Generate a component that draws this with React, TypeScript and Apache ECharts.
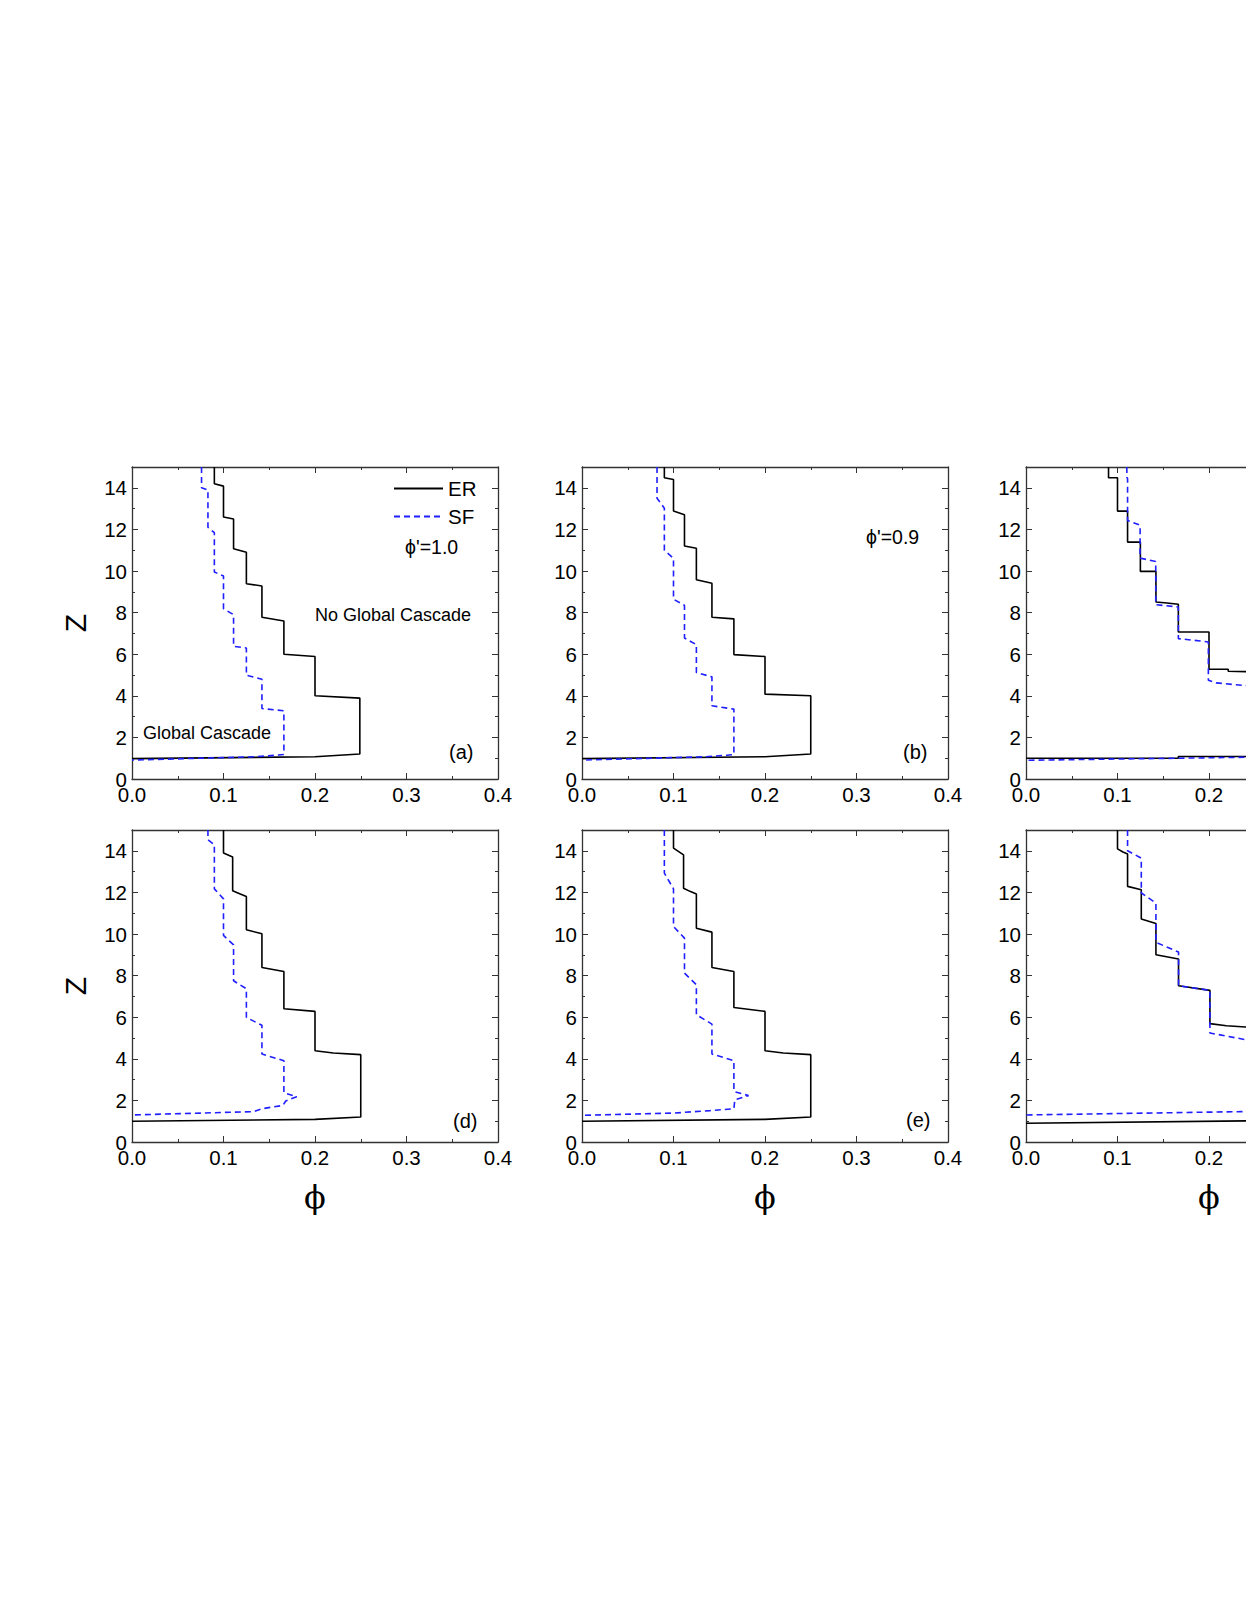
import React, { useEffect, useRef } from "react";
import * as echarts from "echarts";

// ---------- Data (phi, Z) ----------
// Panel (a)  phi' = 1.0
const aErPhi = [0.09, 0.09, 0.1, 0.1, 0.111, 0.111, 0.125, 0.125, 0.142, 0.142, 0.166, 0.166, 0.2, 0.2, 0.249, 0.249, 0.2, 0.0];
const aErZ = [15, 14.19, 14.08, 12.6, 12.5, 11.07, 10.9, 9.39, 9.28, 7.78, 7.6, 6.0, 5.89, 4.0, 3.89, 1.2, 1.07, 0.98];
const aSfPhi = [0.076, 0.076, 0.083, 0.083, 0.09, 0.09, 0.1, 0.1, 0.111, 0.111, 0.125, 0.125, 0.142, 0.142, 0.166, 0.166, 0.16, 0.135, 0.0];
const aSfZ = [15, 14.0, 13.9, 12.1, 11.84, 9.95, 9.76, 8.19, 7.9, 6.38, 6.3, 4.99, 4.8, 3.39, 3.28, 1.18, 1.15, 1.07, 0.91];

// Panel (b)  phi' = 0.9
const bErPhi = [0.09, 0.09, 0.1, 0.1, 0.112, 0.112, 0.125, 0.125, 0.142, 0.142, 0.166, 0.166, 0.2, 0.2, 0.25, 0.25, 0.2, 0.0];
const bErZ = [15, 14.48, 14.4, 12.88, 12.7, 11.2, 11.09, 9.58, 9.41, 7.78, 7.7, 5.98, 5.89, 4.08, 4.0, 1.2, 1.07, 0.98];
const bSfPhi = [0.082, 0.082, 0.09, 0.09, 0.1, 0.1, 0.112, 0.112, 0.125, 0.125, 0.142, 0.142, 0.166, 0.166, 0.16, 0.135, 0.0];
const bSfZ = [15, 13.5, 13.02, 11.0, 10.6, 8.64, 8.35, 6.78, 6.46, 5.12, 4.91, 3.52, 3.36, 1.18, 1.15, 1.07, 0.91];

// Panel (c)
const cErPhi = [0.0902, 0.0902, 0.1, 0.1, 0.111, 0.111, 0.125, 0.125, 0.142, 0.142, 0.154, 0.1665, 0.1665, 0.2, 0.2, 0.221, 0.221, 0.25, 0.25, 0.1665, 0.1665, 0.0];
const cErZ = [15, 14.48, 14.48, 12.88, 12.88, 11.39, 11.39, 9.98, 9.98, 8.51, 8.46, 8.4, 7.07, 7.07, 5.28, 5.28, 5.18, 5.15, 1.08, 1.08, 1.0, 1.0];
const cSfPhi = [0.1102, 0.1102, 0.111, 0.111, 0.1247, 0.1247, 0.1418, 0.1418, 0.1665, 0.1665, 0.1993, 0.1993, 0.208, 0.25, 0.25, 0.0];
const cSfZ = [15, 14.5, 14.45, 12.43, 12.2, 10.62, 10.46, 8.38, 8.27, 6.75, 6.59, 4.75, 4.62, 4.45, 1.05, 0.9];

// Panel (d)
const dErPhi = [0.1, 0.1, 0.11, 0.11, 0.117, 0.125, 0.125, 0.142, 0.142, 0.166, 0.166, 0.2, 0.2, 0.22, 0.25, 0.25, 0.2, 0.0];
const dErZ = [15, 13.89, 13.7, 12.08, 11.95, 11.8, 10.2, 10.01, 8.39, 8.2, 6.41, 6.28, 4.39, 4.28, 4.2, 1.2, 1.09, 1.0];
const dSfPhi = [0.083, 0.083, 0.09, 0.09, 0.1, 0.1, 0.111, 0.111, 0.125, 0.125, 0.142, 0.142, 0.166, 0.166, 0.18, 0.168, 0.165, 0.142, 0.133, 0.0];
const dSfZ = [15, 14.53, 14.29, 12.17, 11.69, 9.93, 9.48, 7.75, 7.37, 5.99, 5.61, 4.23, 3.91, 2.37, 2.18, 1.97, 1.76, 1.6, 1.46, 1.3];

// Panel (e)
const eErPhi = [0.1, 0.1, 0.111, 0.111, 0.118, 0.125, 0.125, 0.142, 0.142, 0.166, 0.166, 0.2, 0.2, 0.22, 0.25, 0.25, 0.2, 0.0];
const eErZ = [15, 14.13, 13.8, 12.2, 12.05, 11.92, 10.28, 10.09, 8.39, 8.2, 6.47, 6.28, 4.39, 4.28, 4.2, 1.2, 1.09, 1.0];
const eSfPhi = [0.09, 0.09, 0.1, 0.1, 0.112, 0.112, 0.125, 0.125, 0.142, 0.142, 0.166, 0.166, 0.182, 0.167, 0.166, 0.14, 0.1, 0.0];
const eSfZ = [15, 12.93, 12.17, 10.36, 9.8, 8.12, 7.56, 6.12, 5.67, 4.23, 3.91, 2.43, 2.23, 2.03, 1.6, 1.51, 1.39, 1.28];

// Panel (f)
const fErPhi = [0.1, 0.1, 0.106, 0.111, 0.111, 0.126, 0.126, 0.142, 0.142, 0.1667, 0.1667, 0.201, 0.201, 0.219, 0.24, 0.25, 0.25, 0.0];
const fErZ = [15, 14.09, 13.94, 13.85, 12.29, 12.13, 10.72, 10.5, 9.0, 8.8, 7.51, 7.29, 5.69, 5.59, 5.53, 5.5, 1.02, 0.9];
const fSfPhi = [0.111, 0.111, 0.126, 0.126, 0.142, 0.142, 0.1667, 0.1667, 0.201, 0.201, 0.24, 0.25, 0.25, 0.0];
const fSfZ = [15, 14.0, 13.65, 11.97, 11.49, 9.6, 9.13, 7.51, 7.29, 5.24, 4.92, 4.9, 1.47, 1.3];

const seriesNames = ["ER", "SF"];
const panelLabels = ["(a)", "(b)", "(d)", "(e)"];
const xTicks = { min: 0, max: 0.4, interval: 0.1 };
const yTicks = { min: 0, max: 15, interval: 2 };

const panels = [
  { er: [aErPhi, aErZ], sf: [aSfPhi, aSfZ] },
  { er: [bErPhi, bErZ], sf: [bSfPhi, bSfZ] },
  { er: [cErPhi, cErZ], sf: [cSfPhi, cSfZ] },
  { er: [dErPhi, dErZ], sf: [dSfPhi, dSfZ] },
  { er: [eErPhi, eErZ], sf: [eSfPhi, eSfZ] },
  { er: [fErPhi, fErZ], sf: [fSfPhi, fSfZ] },
];

// ---------- Layout ----------
const W = 1246;
const H = 1612;
const colLeft = [132, 582, 1026];
const rowTop = [467, 830];
const GW = 366;
const GH = 312;
const SANS = "Liberation Sans, Arial, sans-serif";
const AXIS_COLOR = "#333";
const TICK_FONT = 20.5;

const zip = (xs: number[], ys: number[]) => xs.map((x, i) => [x, ys[i]]);

export default function App() {
  const ref = useRef<HTMLDivElement>(null);

  useEffect(() => {
    if (!ref.current) return;
    const chart = echarts.init(ref.current, undefined, { renderer: "svg" });

    const grid: any[] = [];
    const xAxis: any[] = [];
    const yAxis: any[] = [];
    const series: any[] = [];

    panels.forEach((p, i) => {
      const row = Math.floor(i / 3);
      const col = i % 3;
      grid.push({
        left: colLeft[col],
        top: rowTop[row],
        width: GW,
        height: GH,
        containLabel: false,
        outerBoundsMode: "none",
      });

      const common = {
        gridIndex: i,
        type: "value",
        axisLine: { show: true, onZero: false, lineStyle: { color: AXIS_COLOR, width: 1.3 } },
        axisTick: { show: true, inside: true, length: 6, lineStyle: { color: AXIS_COLOR, width: 1 } },
        minorTick: { show: true, splitNumber: 2, length: 3, lineStyle: { color: AXIS_COLOR, width: 1 } },
        splitLine: { show: false },
        minorSplitLine: { show: false },
      };

      // the third column is cropped by the page edge: its labels beyond the edge are not drawn
      const cropped = col === 2;
      const visibleMax = ((W - colLeft[col]) / GW) * xTicks.max;

      xAxis.push({
        ...common,
        ...xTicks,
        position: "bottom",
        axisLabel: {
          fontSize: TICK_FONT,
          color: "#000",
          fontFamily: SANS,
          margin: 5,
          formatter: (v: number) => (cropped && v > visibleMax - 0.02 ? "" : v.toFixed(1)),
        },
        name: row === 1 ? "ϕ" : "",
        nameLocation: "middle",
        nameGap: 39,
        nameTextStyle: { fontSize: 32, color: "#000", fontFamily: "DejaVu Serif, serif" },
      });
      xAxis.push({
        ...common,
        ...xTicks,
        position: "top",
        axisLabel: { show: false },
      });

      yAxis.push({
        ...common,
        ...yTicks,
        position: "left",
        axisLabel: {
          fontSize: TICK_FONT,
          color: "#000",
          fontFamily: SANS,
          margin: 5,
          showMaxLabel: false,
        },
        name: col === 0 ? "Z" : "",
        nameLocation: "middle",
        nameGap: 42,
        nameRotate: 90,
        nameTextStyle: { fontSize: 30, color: "#000", fontFamily: SANS },
      });
      yAxis.push({
        ...common,
        ...yTicks,
        position: "right",
        axisLabel: { show: false },
      });

      series.push({
        name: seriesNames[0],
        type: "line",
        xAxisIndex: 2 * i,
        yAxisIndex: 2 * i,
        data: zip(p.er[0], p.er[1]),
        symbol: "none",
        showSymbol: false,
        lineStyle: { color: "#000", width: 1.6, type: "solid" },
        itemStyle: { color: "#000" },
        z: 3,
      });
      series.push({
        name: seriesNames[1],
        type: "line",
        xAxisIndex: 2 * i,
        yAxisIndex: 2 * i,
        data: zip(p.sf[0], p.sf[1]),
        symbol: "none",
        showSymbol: false,
        lineStyle: { color: "#1f1fff", width: 1.6, type: [6, 4] },
        itemStyle: { color: "#1f1fff" },
        z: 4,
      });
    });

    const txt = (text: string, x: number, y: number, size: number, align = "left") => ({
      type: "text",
      x,
      y,
      style: {
        text,
        fontSize: size,
        fontFamily: SANS,
        fill: "#000",
        textAlign: align,
        textVerticalAlign: "middle",
      },
    });

    const graphic = [
      txt("ϕ'=1.0", 405, 547, 19.5),
      txt("No Global Cascade", 315, 615, 18),
      txt("Global Cascade", 143, 733, 18),
      txt(panelLabels[0], 449, 752, 20),
      txt("ϕ'=0.9", 866, 537, 19.5),
      txt(panelLabels[1], 903, 752, 20),
      txt(panelLabels[2], 453, 1121, 20),
      txt(panelLabels[3], 906, 1120, 20),
    ];

    chart.setOption({
      animation: false,
      backgroundColor: "#fff",
      grid,
      xAxis,
      yAxis,
      series,
      legend: {
        data: seriesNames,
        orient: "vertical",
        left: 388,
        top: 473,
        itemWidth: 49,
        itemHeight: 20,
        itemGap: 7,
        itemStyle: { opacity: 0, color: "transparent", borderWidth: 0 },
        textStyle: { fontSize: 20.5, color: "#000", fontFamily: SANS },
        selectedMode: false,
      },
      graphic,
    });

    return () => chart.dispose();
  }, []);

  return (
    <div
      ref={ref}
      style={{ position: "absolute", left: 0, top: 0, width: W, height: H, background: "#fff" }}
    />
  );
}
